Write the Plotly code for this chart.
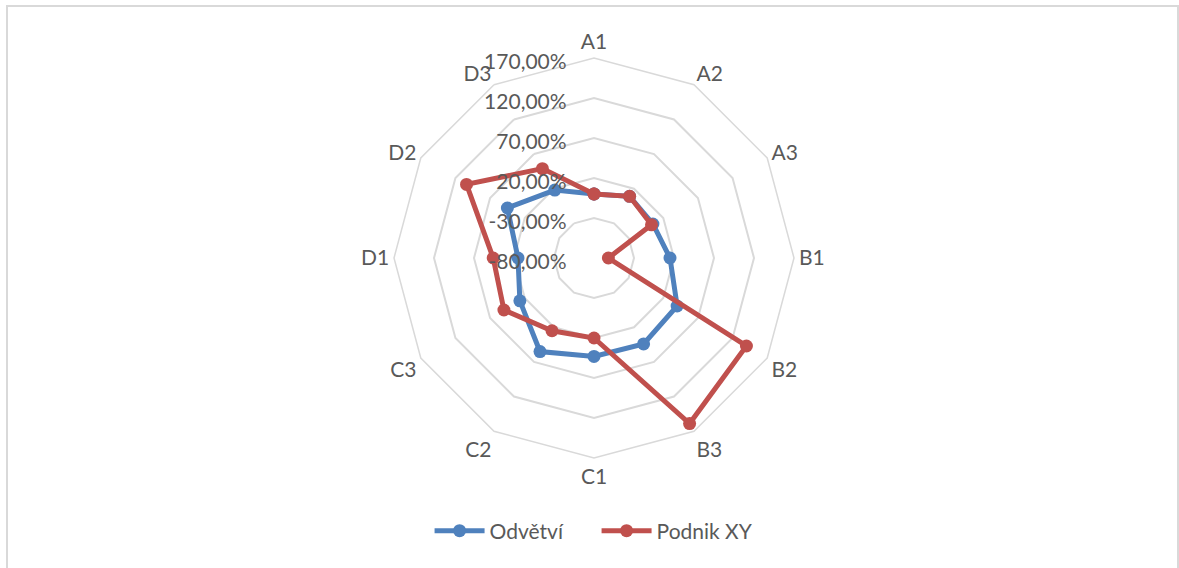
import plotly.graph_objects as go

categories = ["A1", "A2", "A3", "B1", "B2", "B3", "C1", "C2", "C3", "D1", "D2", "D3"]
odvetvi = [0, 9, 5, 15, 40, 44, 43, 55, 27, 15, 45, 18]
podnik_xy = [0, 9, 3, -62, 140, 159, 20, 25, 50, 46, 104, 49]

radial_ticks = [-80, -30, 20, 70, 120, 170]
radial_labels = ["-80,00%", "-30,00%", "20,00%", "70,00%", "120,00%", "170,00%"]

BLUE = "#4F81BD"
RED = "#C0504D"
GRID = "#D9D9D9"
TEXT = "#595959"
FONT = "Lato"
FS = 21

W, H = 1179, 568
cx, cy, R = 594, 258, 200

# the radial axis starts at -80 %; plot distances from that baseline so the
# polygon grid keeps every marker visible
R_MIN, R_MAX = radial_ticks[0], radial_ticks[-1]


def closed(seq):
    return list(seq) + [seq[0]]


fig = go.Figure()
for name, vals, col in [("Odvětví", odvetvi, BLUE), ("Podnik XY", podnik_xy, RED)]:
    fig.add_trace(go.Scatterpolar(
        r=closed([v - R_MIN for v in vals]),
        theta=closed(categories),
        customdata=closed(vals),
        hovertemplate="%{theta}: %{customdata:.2f} %<extra>" + name + "</extra>",
        name=name,
        mode="lines+markers",
        line=dict(color=col, width=5),
        marker=dict(color=col, size=13),
        cliponaxis=False,
    ))

fig.update_layout(
    width=W,
    height=H,
    margin=dict(l=0, r=0, t=0, b=0),
    paper_bgcolor="white",
    font=dict(family=FONT, size=FS, color=TEXT),
    polar=dict(
        domain=dict(x=[(cx - R) / W, (cx + R) / W],
                    y=[(H - cy - R) / H, (H - cy + R) / H]),
        bgcolor="white",
        gridshape="linear",
        radialaxis=dict(
            range=[0, R_MAX - R_MIN],
            tickvals=[t - R_MIN for t in radial_ticks],
            ticktext=radial_labels,
            angle=90,
            side="counterclockwise",
            showline=False,
            ticks="outside",
            ticklen=8,
            tickcolor="rgba(0,0,0,0)",
            gridcolor=GRID,
            gridwidth=1.5,
            tickfont=dict(family=FONT, size=FS, color=TEXT),
        ),
        angularaxis=dict(
            rotation=90,
            direction="clockwise",
            showgrid=False,
            linecolor=GRID,
            linewidth=1.5,
            ticks="",
            tickfont=dict(family=FONT, size=FS, color=TEXT),
        ),
    ),
    showlegend=True,
    legend=dict(
        orientation="h",
        x=0.506, xanchor="center",
        y=(H - 531) / H, yanchor="middle",
        font=dict(family=FONT, size=FS, color=TEXT),
        itemwidth=50,
        entrywidth=102,
    ),
    shapes=[dict(
        type="rect", xref="paper", yref="paper",
        x0=7 / W, x1=1178 / W, y0=-0.01, y1=(H - 6) / H,
        line=dict(color=GRID, width=2),
    )],
)

fig.write_html("out.html")
